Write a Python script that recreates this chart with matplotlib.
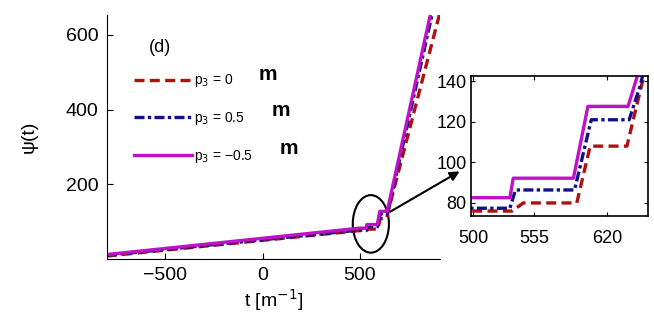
import matplotlib
matplotlib.use("Agg")
import matplotlib.pyplot as plt
from matplotlib.patches import Ellipse

plt.rcParams['font.family'] = ['Liberation Sans', 'DejaVu Sans']

# psi(t) curves, one per p3 value
t_p0 = [-800, 498, 535, 545, 593, 605, 638, 652, 930]
psi_p0 = [8, 76, 76, 80, 80, 108, 108, 140, 695]

t_p05 = [-800, 498, 533, 538, 591, 606, 640, 650, 905]
psi_p05 = [10, 77.4, 77.4, 86.4, 86.4, 121, 121, 138, 732]

t_m05 = [-800, 498, 533, 536, 590, 603, 639, 647, 900]
psi_m05 = [12, 82.6, 82.6, 92.2, 92.2, 127.6, 127.6, 142, 742]

labels = ["p$_3$ = 0", "p$_3$ = 0.5", "p$_3$ = \u22120.5"]
colors = ["#b01010", "#10108a", "#c010c8"]

fig = plt.figure(figsize=(6.54, 3.31), dpi=100)
ax = fig.add_axes([0.1636, 0.2175, 0.509, 0.737])

def draw(a, lw):
    a.plot(t_p0, psi_p0, color=colors[0], ls=(0, (3, 1.6)), lw=lw, label=labels[0])
    a.plot(t_p05, psi_p05, color=colors[1], ls=(0, (3, 1, 1, 1)), lw=lw, label=labels[1])
    a.plot(t_m05, psi_m05, color=colors[2], ls='-', lw=lw, label=labels[2])

draw(ax, 2.4)
ax.set_xlim(-800, 912)
ax.set_ylim(0, 653)
ax.set_xticks([-500, 0, 500])
ax.set_xticklabels(["\u2212500", "0", "500"])
ax.set_yticks([200, 400, 600])
ax.spines['top'].set_visible(False)
ax.spines['right'].set_visible(False)
ax.tick_params(direction='in', length=4, labelsize=14, pad=6)
ax.set_xlabel("t [m$^{-1}$]", fontsize=14, labelpad=2)
ax.set_ylabel("\u03c8(t)", fontsize=14, labelpad=20)

leg = ax.legend(loc='upper left', bbox_to_anchor=(0.08, 0.765), frameon=False,
                fontsize=10, handlelength=4.2, handletextpad=0.15,
                labelspacing=1.5, borderpad=0, borderaxespad=0)

ax.text(160 / 654, 1 - 47 / 331, "(d)", transform=fig.transFigure,
        fontsize=13, ha='center', va='center')
for (px, py) in [(268, 75), (281, 111), (289, 148)]:
    fig.text(px / 654, 1 - py / 331, "m", fontsize=15, fontweight='bold',
             ha='center', va='center')

ax.add_patch(Ellipse((557, 94), 186, 154, fill=False, lw=1.5,
                     color='black', clip_on=False))

fig.patches.append(matplotlib.patches.FancyArrowPatch(
    (388 / 654, 1 - 213 / 331), (462 / 654, 1 - 170 / 331),
    transform=fig.transFigure, arrowstyle='-|>', mutation_scale=14,
    lw=1.5, color='black'))

# inset zoom
ins = fig.add_axes([0.720, 0.347, 0.271, 0.423])
draw(ins, 2.4)
ins.set_xlim(498, 657)
ins.set_ylim(73.5, 142.5)
ins.set_xticks([500, 555, 620])
ins.set_yticks([80, 100, 120, 140])
ins.tick_params(direction='in', length=3, labelsize=13, top=True, right=True, pad=10)
ins.tick_params(axis='y', pad=3)
for s in ins.spines.values():
    s.set_linewidth(1.2)

fig.savefig("out.png", dpi=100)
